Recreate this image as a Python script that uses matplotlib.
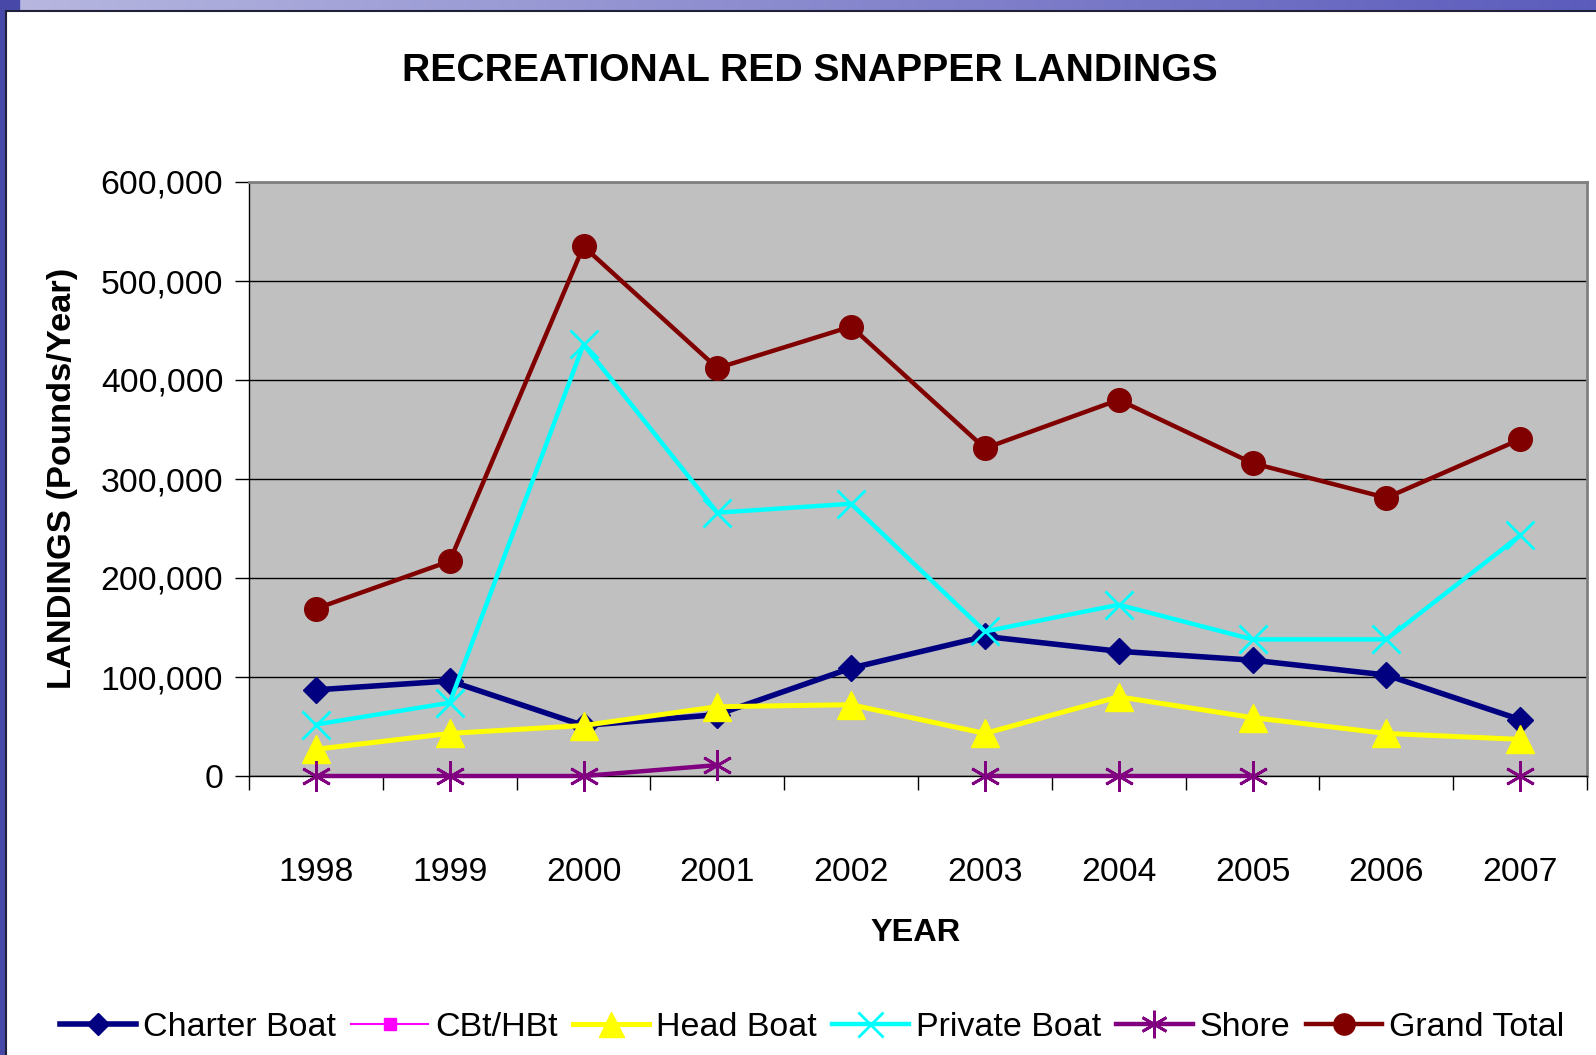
import numpy as np
import matplotlib
matplotlib.use("Agg")
import matplotlib.pyplot as plt
from matplotlib.patches import Rectangle
from matplotlib.ticker import FuncFormatter

years = ["1998", "1999", "2000", "2001", "2002", "2003", "2004", "2005", "2006", "2007"]
charter_boat = [87000, 96000, 51000, 62000, 109000, 141000, 126000, 117000, 102000, 57000]
cbt_hbt = [np.nan] * 10
head_boat = [27000, 43000, 51000, 70000, 72000, 43000, 80000, 59000, 43000, 37000]
private_boat = [52000, 74000, 436000, 266000, 275000, 146000, 173000, 138000, 138000, 243000]
shore = [0, 0, 0, 11000, np.nan, 0, 0, 0, np.nan, 0]
grand_total = [169000, 217000, 535000, 412000, 454000, 331000, 380000, 316000, 281000, 340000]
yticks = [0, 100000, 200000, 300000, 400000, 500000, 600000]

plt.rcParams['font.family'] = ['Liberation Sans', 'DejaVu Sans']

W, H = 1596, 1055
fig = plt.figure(figsize=(W / 100, H / 100), dpi=100)

# background gradient
bg = fig.add_axes([0, 0, 1, 1], zorder=-10)
gx = np.linspace(0, 1, 256)
grad = np.zeros((2, 256, 3))
c1 = np.array([0.72, 0.72, 0.88])
c2 = np.array([0.36, 0.36, 0.74])
for i, t in enumerate(gx):
    grad[:, i, :] = c1 * (1 - t) + c2 * t
bg.imshow(grad, aspect='auto', extent=[0, 1, 0, 1])
bg.add_patch(Rectangle((0, 0), 0.012, 1, color='#4848a8', zorder=2))
bg.add_patch(Rectangle((6 / W, -0.01), 1.0, 1 - 11 / H + 0.01, facecolor='white',
                       edgecolor='#202038', linewidth=1.5, zorder=3))
bg.set_xlim(0, 1)
bg.set_ylim(0, 1)
bg.axis('off')

left, right, top, bottom = 249, 1587, 182, 776
ax = fig.add_axes([left / W, 1 - bottom / H, (right - left) / W, (bottom - top) / H])
ax.set_facecolor('#c0c0c0')
x = np.arange(len(years))

series = [
    ("Charter Boat", charter_boat, '#000080', 'D', 13, 4.0, {}),
    ("CBt/HBt", cbt_hbt, '#FF00FF', 's', 9, 1.5, {}),
    ("Head Boat", head_boat, '#FFFF00', '^', 20, 3.6, {}),
    ("Private Boat", private_boat, '#00FFFF', 'x', 20, 3.2, {'markeredgewidth': 2}),
    ("Shore", shore, '#800080', (6, 2, 0), 22, 3.2, {'markeredgewidth': 2}),
    ("Grand Total", grand_total, '#800000', 'o', 17, 3.2, {}),
]
handles = []
for i, (name, vals, col, mk, ms, lw, kw) in enumerate(series):
    h, = ax.plot(x, vals, color=col, marker=mk, markersize=ms, linewidth=lw,
                 markerfacecolor=col, markeredgecolor=col, label=name, zorder=3 + i,
                 clip_on=False, **kw)
    handles.append(h)

ax.set_xlim(-0.5, len(years) - 0.5)
ax.set_ylim(0, 600000)
ax.set_yticks(yticks)
ax.yaxis.set_major_formatter(FuncFormatter(lambda v, p: f"{int(v):,}"))
ax.grid(axis='y', color='black', linewidth=1.0)
ax.set_axisbelow(True)
ax.tick_params(axis='y', direction='out', length=10, width=1, labelsize=24.3, pad=8.5)
ax.set_xticks(np.arange(-0.5, len(years), 1.0))
ax.set_xticklabels([])
ax.set_xticks(x, minor=True)
ax.set_xticklabels(years, minor=True)
ax.tick_params(axis='x', which='major', direction='out', length=10, width=1)
ax.tick_params(axis='x', which='minor', length=0, labelsize=24.3, pad=58)
for s in ['top', 'right']:
    ax.spines[s].set_color('#808080')
    ax.spines[s].set_linewidth(2)
for s in ['left', 'bottom']:
    ax.spines[s].set_color('#000000')
    ax.spines[s].set_linewidth(1)

fig.text(810 / W, 1 - 71 / H, "RECREATIONAL RED SNAPPER LANDINGS", ha='center', va='center',
         fontsize=28.2, fontweight='bold')
fig.text(916 / W, 1 - 933 / H, "YEAR", ha='center', va='center', fontsize=23.4, fontweight='bold')
fig.text(63 / W, 1 - 478 / H, "LANDINGS (Pounds/Year)", ha='center', va='center', rotation=90,
         fontsize=24.8, fontweight='bold')

leg = fig.legend(handles=handles, loc='center', bbox_to_anchor=(812 / W, 1 - 1027 / H), ncol=6,
                 frameon=False, handlelength=2.25, handletextpad=0.2,
                 columnspacing=0.45, prop={'size': 24.5})
for lh in leg.legend_handles:
    lh.set_markersize(lh.get_markersize() * 0.9)

fig.savefig("out.png", dpi=100)
